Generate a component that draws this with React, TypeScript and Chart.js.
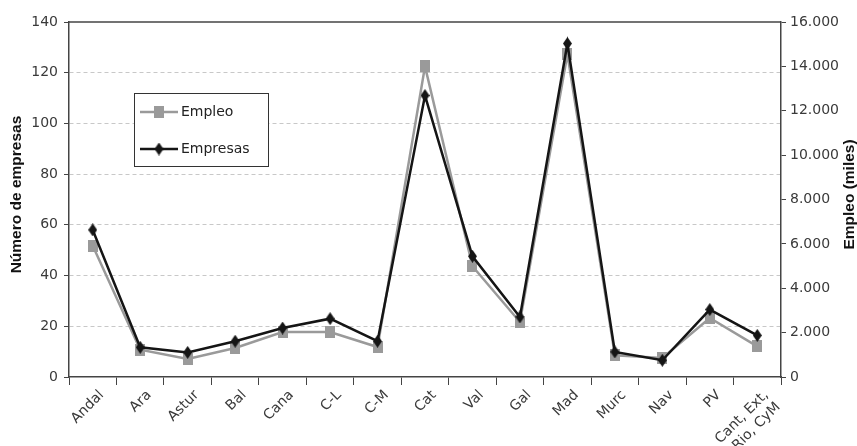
import { useEffect, useRef } from 'react';
import { Chart, registerables } from 'chart.js';

Chart.register(...registerables);

const categories: (string | string[])[] = [
  'Andal', 'Ara', 'Astur', 'Bal', 'Cana', 'C-L', 'C-M', 'Cat', 'Val', 'Gal', 'Mad', 'Murc', 'Nav', 'PV',
  ['Cant, Ext,', 'Rio, CyM'],
];
const empresas = [58, 11.7, 9.7, 14.1, 19.3, 23, 14.1, 111, 47.6, 23.7, 131.5, 9.9, 6.6, 26.6, 16.4];
const empleo = [5920, 1230, 810, 1310, 2030, 2030, 1350, 14000, 4990, 2480, 14550, 980, 860, 2660, 1380];
const seriesNames = ['Empleo', 'Empresas'];
const leftTitle = 'Número de empresas';
const rightTitle = 'Empleo (miles)';
const leftMax = 140;
const leftStep = 20;
const rightMax = 16000;
const rightStep = 2000;

const TICK_FONT = { family: '"DejaVu Sans", sans-serif', size: 14 };
const AXIS_COLOR = '#444';
const GRAY = '#9a9a9a';
const BLACK = '#151515';

function fmt(v: number) {
  return String(v).replace(/\B(?=(\d{3})+(?!\d))/g, '.');
}

function makeSquare() {
  const c = document.createElement('canvas');
  c.width = 10; c.height = 12;
  const x = c.getContext('2d')!;
  x.fillStyle = GRAY;
  x.fillRect(0, 0, 10, 12);
  return c;
}
function makeDiamond() {
  const c = document.createElement('canvas');
  c.width = 9; c.height = 13;
  const x = c.getContext('2d')!;
  x.fillStyle = BLACK;
  x.beginPath();
  x.moveTo(4.5, 0); x.lineTo(9, 6.5); x.lineTo(4.5, 13); x.lineTo(0, 6.5); x.closePath();
  x.fill();
  return c;
}

export default function App() {
  const ref = useRef<HTMLCanvasElement>(null);
  useEffect(() => {
    const square = makeSquare();
    const diamond = makeDiamond();
    const extras = {
      id: 'extras',
      beforeDatasetsDraw(chart: any) {
        const { ctx, chartArea: a } = chart;
        ctx.save();
        ctx.strokeStyle = AXIS_COLOR;
        ctx.lineWidth = 1.5;
        ctx.beginPath();
        ctx.moveTo(a.left, a.top);
        ctx.lineTo(a.right, a.top);
        ctx.stroke();
        ctx.restore();
      },
      afterDraw(chart: any) {
        const { ctx, chartArea: a } = chart;
        ctx.save();
        ctx.fillStyle = '#111';
        ctx.font = 'bold 15.5px "Liberation Sans", Arial, sans-serif';
        ctx.textAlign = 'center';
        ctx.textBaseline = 'middle';
        const cy = (a.top + a.bottom) / 2 - 5;
        ctx.save();
        ctx.translate(17, cy);
        ctx.rotate(-Math.PI / 2);
        ctx.fillText(leftTitle, 0, 0);
        ctx.restore();
        ctx.save();
        ctx.translate(chart.width - 7, cy);
        ctx.rotate(-Math.PI / 2);
        ctx.fillText(rightTitle, 0, 0);
        ctx.restore();
        const lx = a.left + 65, ly = a.top + 71, lw = 134, lh = 73;
        ctx.fillStyle = '#fff';
        ctx.fillRect(lx, ly, lw, lh);
        ctx.strokeStyle = '#333';
        ctx.lineWidth = 1;
        ctx.strokeRect(lx + 0.5, ly + 0.5, lw, lh);
        const rows = [
          { name: seriesNames[0], color: GRAY, img: square, y: ly + 19 },
          { name: seriesNames[1], color: BLACK, img: diamond, y: ly + 56 },
        ];
        ctx.font = '14px "DejaVu Sans", sans-serif';
        ctx.textAlign = 'left';
        for (const r of rows) {
          ctx.strokeStyle = r.color;
          ctx.lineWidth = 2.5;
          ctx.beginPath();
          ctx.moveTo(lx + 6, r.y);
          ctx.lineTo(lx + 44, r.y);
          ctx.stroke();
          ctx.drawImage(r.img, lx + 25 - r.img.width / 2, r.y - r.img.height / 2);
          ctx.fillStyle = '#222';
          ctx.fillText(r.name, lx + 47, r.y);
        }
        ctx.restore();
      },
    };
    const chart = new Chart(ref.current!, {
      type: 'line',
      data: {
        labels: categories as any,
        datasets: [
          {
            label: seriesNames[0],
            data: empleo,
            yAxisID: 'y1',
            borderColor: GRAY,
            backgroundColor: GRAY,
            borderWidth: 2.5,
            pointStyle: square as any,
            pointRadius: 6,
            tension: 0,
            order: 1,
          },
          {
            label: seriesNames[1],
            data: empresas,
            yAxisID: 'y',
            borderColor: BLACK,
            backgroundColor: BLACK,
            borderWidth: 2.5,
            pointStyle: diamond as any,
            pointRadius: 6,
            tension: 0,
            order: 0,
          },
        ],
      },
      options: {
        animation: false,
        responsive: false,
        maintainAspectRatio: false,
        layout: { padding: { top: 22, left: 0, right: 0, bottom: 0 } },
        plugins: { legend: { display: false }, tooltip: { enabled: false } },
        scales: {
          x: {
            offset: true,
            grid: { offset: true, drawOnChartArea: false, color: AXIS_COLOR, tickLength: 8, tickColor: AXIS_COLOR },
            border: { color: AXIS_COLOR, width: 1.5 },
            ticks: { font: TICK_FONT, color: '#3a3a3a', minRotation: 45, maxRotation: 45, autoSkip: false, padding: 2, labelOffset: 9 },
            afterFit(s: any) { s.height = 69; },
          },
          y: {
            position: 'left',
            min: 0,
            max: leftMax,
            ticks: { stepSize: leftStep, font: TICK_FONT, color: '#3a3a3a', padding: 6 },
            grid: {
              color: (c: any) => (c.tick && (c.tick.value === 0 || c.tick.value === leftMax) ? 'rgba(0,0,0,0)' : '#c8c8c8'),
              tickColor: AXIS_COLOR,
              tickLength: 5,
              tickBorderDash: [],
              lineWidth: 1,
            },
            border: { color: AXIS_COLOR, width: 1.5, dash: [4, 3] },
            afterFit(s: any) { s.width = 69; },
          },
          y1: {
            position: 'right',
            min: 0,
            max: rightMax,
            ticks: { stepSize: rightStep, font: TICK_FONT, color: '#3a3a3a', padding: 4, callback: (v: any) => fmt(Number(v)) },
            grid: { drawOnChartArea: false, tickColor: AXIS_COLOR, tickLength: 5 },
            border: { color: AXIS_COLOR, width: 1.5 },
            afterFit(s: any) { s.width = 857 - 781; },
          },
        },
      },
      plugins: [extras],
    });
    return () => chart.destroy();
  }, []);
  return (
    <div style={{ position: 'absolute', left: 0, top: 0, width: 857, height: 446, background: '#fff' }}>
      <canvas ref={ref} width={857} height={446} style={{ width: 857, height: 446 }} />
    </div>
  );
}
